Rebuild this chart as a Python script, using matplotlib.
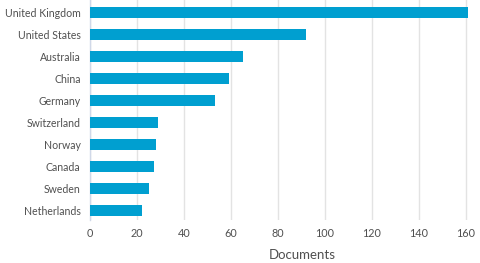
import matplotlib
matplotlib.use("Agg")
import matplotlib.pyplot as plt

countries = ["United Kingdom", "United States", "Australia", "China", "Germany",
             "Switzerland", "Norway", "Canada", "Sweden", "Netherlands"]
documents = [161, 92, 65, 59, 53, 29, 28, 27, 25, 22]
xticks = [0, 20, 40, 60, 80, 100, 120, 140, 160]

plt.rcParams['font.family'] = ['Lato', 'DejaVu Sans']
text_col = '#505050'

fig = plt.figure(figsize=(4.8, 2.63), dpi=100)
ax = fig.add_axes([0.188, 0.163, 0.812, 0.837])

ypos = list(range(len(countries)))
ax.barh(ypos, documents, height=0.5, color='#009fd0', zorder=3)

ax.set_ylim(len(countries) - 0.55, -0.55)
ax.set_xlim(0, 166)
ax.set_yticks(ypos)
ax.set_yticklabels(countries, fontsize=7.6, color=text_col)
ax.set_xticks(xticks)
ax.set_xticklabels([str(t) for t in xticks], fontsize=7.8, color=text_col)
ax.tick_params(axis='both', length=0)
ax.tick_params(axis='y', pad=7)
ax.tick_params(axis='x', pad=6)

ax.grid(axis='x', color='#e3e3e3', linewidth=1, zorder=0)
for side in ['top', 'right', 'bottom']:
    ax.spines[side].set_visible(False)
ax.spines['left'].set_color('#d0d8e8')
ax.spines['left'].set_linewidth(1)

ax.set_xlabel('Documents', fontsize=9.5, color=text_col)
ax.xaxis.set_label_coords(0.544, -0.13)
ax.xaxis.label.set_verticalalignment('top')

fig.savefig('out.png', dpi=100)
